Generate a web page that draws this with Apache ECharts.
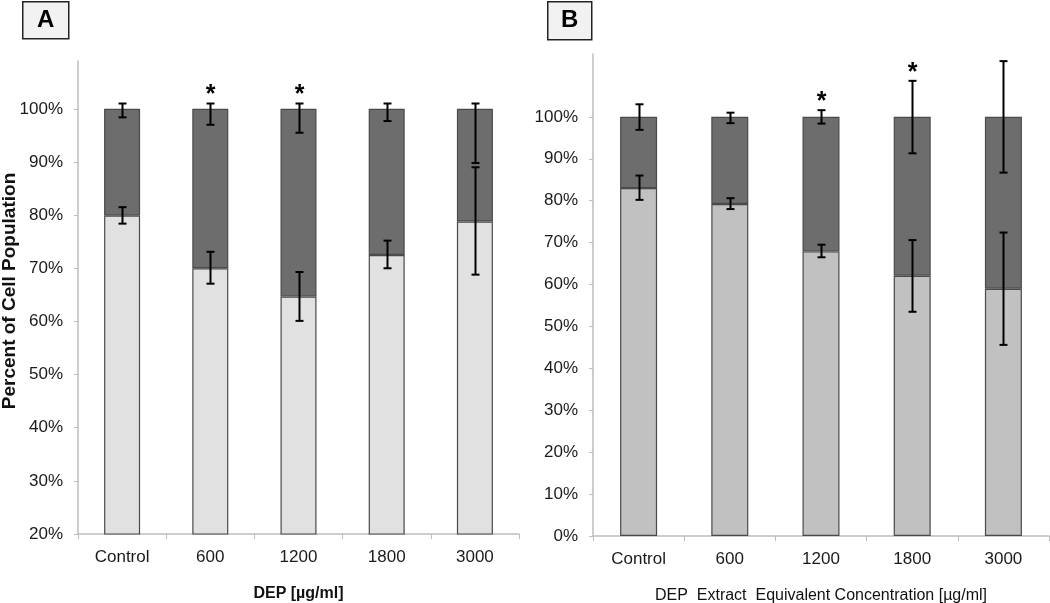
<!DOCTYPE html>
<html>
<head>
<meta charset="utf-8">
<script src="https://cdn.jsdelivr.net/npm/echarts@6/dist/echarts.min.js"></script>
<style>html,body{margin:0;padding:0;background:#fff}#c{width:1050px;height:603px}</style>
</head>
<body>
<div id="c"></div>
<script>
// ---- data ----
const categories = ['Control', '600', '1200', '1800', '3000'];
// Panel A (DEP)
const lowerA = [79.9, 70.0, 64.7, 72.5, 78.8];
const upperA = [20.1, 30.0, 35.3, 27.5, 21.2];
const lowerErrA = [[78.4, 81.5], [67.1, 73.1], [60.1, 69.3], [70.0, 75.2], [68.8, 89.0]];
const upperErrA = [[98.4, 101.0], [97.0, 101.0], [95.5, 101.0], [97.7, 101.0], [89.8, 101.0]];
const starsA = [0, 1, 1, 0, 0];
// Panel B (DEP extract)
const lowerB = [83.0, 79.2, 67.9, 62.1, 59.0];
const upperB = [17.0, 20.8, 32.1, 37.9, 41.0];
const lowerErrB = [[80.2, 86.0], [78.0, 80.6], [66.5, 69.5], [53.5, 70.6], [45.6, 72.4]];
const upperErrB = [[96.9, 103.0], [98.5, 101.0], [98.4, 101.6], [91.3, 108.6], [86.7, 113.3]];
const starsB = [0, 0, 1, 1, 0];
const ticksA = [20, 30, 40, 50, 60, 70, 80, 90, 100];
const ticksB = [0, 10, 20, 30, 40, 50, 60, 70, 80, 90, 100];

// ---- styles ----
const FONT = 'Liberation Sans';
const DARK = '#6d6d6d';
const LIGHT_A = '#e1e1e1';
const LIGHT_B = '#c1c1c1';
const BORDER = '#4a4a4a';
const AXIS = '#bdbdbd';

function errData(errs, stars) {
  return errs.map((e, i) => [i, e[0], e[1], stars ? stars[i] : 0]);
}
function errSeries(idx, errs, stars) {
  return {
    type: 'custom', xAxisIndex: idx, yAxisIndex: idx, z: 10,
    data: errData(errs, stars),
    encode: { x: 0, y: [1, 2] },
    renderItem: function (params, api) {
      const lo = api.coord([api.value(0), api.value(1)]);
      const hi = api.coord([api.value(0), api.value(2)]);
      const x = Math.round(lo[0]) + 0.5;
      const cap = 4;
      const st = { stroke: '#000', lineWidth: 2 };
      const children = [
        { type: 'line', shape: { x1: x, y1: lo[1], x2: x, y2: hi[1] }, style: st },
        { type: 'line', shape: { x1: x - cap, y1: lo[1], x2: x + cap, y2: lo[1] }, style: st },
        { type: 'line', shape: { x1: x - cap, y1: hi[1], x2: x + cap, y2: hi[1] }, style: st }
      ];
      if (api.value(3)) {
        children.push({ type: 'text', x: x, y: hi[1] - 8,
          style: { text: '*', fill: '#000', align: 'center', verticalAlign: 'middle', font: 'bold 25px ' + FONT } });
      }
      return { type: 'group', children: children };
    }
  };
}
function barSeries(idx, data, color, width, stack) {
  return {
    type: 'bar', xAxisIndex: idx, yAxisIndex: idx, stack: stack, data: data,
    barWidth: width, animation: false,
    itemStyle: { color: color, borderColor: BORDER, borderWidth: 1.2 }
  };
}
const labelStyle = { color: '#1a1a1a', fontSize: 17, fontFamily: FONT };

const chart = echarts.init(document.getElementById('c'));
chart.setOption({
  animation: false,
  backgroundColor: '#fff',
  grid: [
    { left: 78, right: 531, top: 61, bottom: 69, containLabel: false, outerBoundsMode: 'none' },
    { left: 593, right: 1, top: 54, bottom: 67, containLabel: false, outerBoundsMode: 'none' }
  ],
  xAxis: [0, 1].map(i => ({
    type: 'category', gridIndex: i, data: categories,
    axisLine: { lineStyle: { color: AXIS, width: 1.5 } },
    axisTick: { show: true, length: 5, lineStyle: { color: AXIS } },
    axisLabel: Object.assign({ margin: 15 }, labelStyle),
    name: i === 0 ? 'DEP [µg/ml]' : 'DEP  Extract  Equivalent Concentration [µg/ml]',
    nameLocation: 'middle', nameGap: 52,
    nameTextStyle: { fontFamily: FONT, fontSize: 16, fontWeight: i === 0 ? 'bold' : 'normal', color: '#111' }
  })),
  yAxis: [
    {
      type: 'value', gridIndex: 0, min: 20, max: 109, interval: 10,
      axisLine: { show: true, lineStyle: { color: AXIS, width: 1.5 } },
      axisTick: { show: true, length: 4, customValues: ticksA, lineStyle: { color: AXIS } },
      splitLine: { show: false },
      axisLabel: Object.assign({ margin: 15, customValues: ticksA, formatter: v => v + '%' }, labelStyle)
    },
    {
      type: 'value', gridIndex: 1, min: 0, max: 115, interval: 10,
      axisLine: { show: true, lineStyle: { color: AXIS, width: 1.5 } },
      axisTick: { show: true, length: 4, customValues: ticksB, lineStyle: { color: AXIS } },
      splitLine: { show: false },
      axisLabel: Object.assign({ margin: 15, customValues: ticksB, formatter: v => v + '%' }, labelStyle)
    }
  ],
  series: [
    barSeries(0, lowerA, LIGHT_A, 36, 'a'),
    barSeries(0, upperA, DARK, 36, 'a'),
    barSeries(1, lowerB, LIGHT_B, 37, 'b'),
    barSeries(1, upperB, DARK, 37, 'b'),
    errSeries(0, lowerErrA, null),
    errSeries(0, upperErrA, starsA),
    errSeries(1, lowerErrB, null),
    errSeries(1, upperErrB, starsB)
  ],
  graphic: [
    { type: 'text', x: 10, y: 291, rotation: Math.PI / 2,
      style: { text: 'Percent of Cell Population', align: 'center', verticalAlign: 'middle',
               font: 'bold 19px ' + FONT, fill: '#111' } },
    { type: 'group', left: 22, top: 1, children: [
      { type: 'rect', shape: { x: 0, y: 0, width: 46, height: 37 }, style: { fill: '#f2f2f2', stroke: '#222', lineWidth: 1.5 } },
      { type: 'text', x: 23, y: 19, style: { text: 'A', align: 'center', verticalAlign: 'middle', font: 'bold 24px ' + FONT, fill: '#000' } }
    ]},
    { type: 'group', left: 547, top: 1, children: [
      { type: 'rect', shape: { x: 0, y: 0, width: 44, height: 38 }, style: { fill: '#f2f2f2', stroke: '#222', lineWidth: 1.5 } },
      { type: 'text', x: 22, y: 19, style: { text: 'B', align: 'center', verticalAlign: 'middle', font: 'bold 24px ' + FONT, fill: '#000' } }
    ]}
  ]
});
</script>
</body>
</html>
